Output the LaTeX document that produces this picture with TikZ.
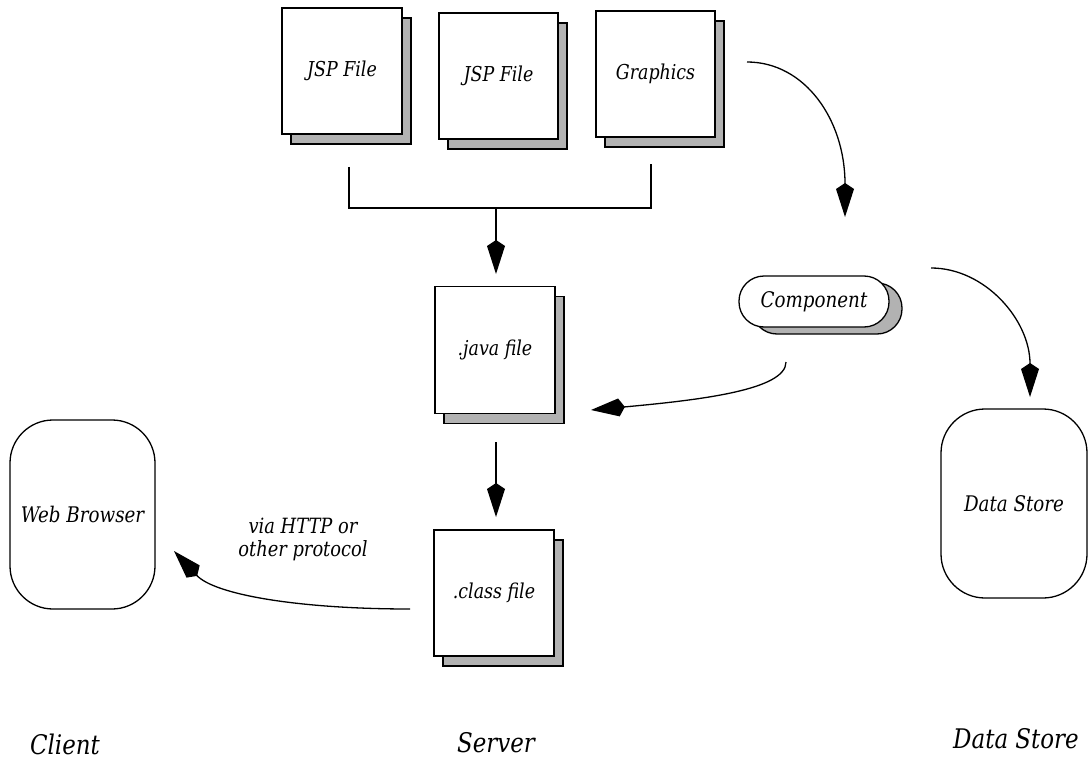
\documentclass[tikz,border=0pt]{standalone}
\usepackage{fontspec}
\setmainfont{DejaVu Serif}[FakeStretch=0.85]
\usetikzlibrary{arrows.meta,shadows,shapes.misc}
\definecolor{shadowgray}{gray}{0.70}
\tikzset{
  lw/.style={line width=1.3pt},
  doc/.style={lw, draw=black, fill=white, rectangle, minimum width=120pt, minimum height=126pt,
    inner sep=0pt, font=\fontsize{20.5}{24}\selectfont\itshape,
    general shadow={shadow xshift=9pt, shadow yshift=-10pt, fill=shadowgray, draw=black, lw}},
  pill/.style={lw, draw=black, fill=white, rectangle, rounded corners=25pt, minimum width=150pt,
    minimum height=51pt, inner sep=0pt, font=\fontsize{21.5}{25}\selectfont\itshape,
    general shadow={shadow xshift=13pt, shadow yshift=-7pt, fill=shadowgray, draw=black, lw}},
  store/.style={lw, draw=black, fill=white, rectangle, rounded corners=44pt, minimum width=146pt,
    minimum height=189pt, inner sep=0pt, font=\fontsize{21.5}{25}\selectfont\itshape},
  lbl/.style={inner sep=0pt, font=\fontsize{21}{23}\selectfont\itshape, align=center},
  biglbl/.style={inner sep=0pt, anchor=base, font=\fontsize{27}{30}\selectfont\itshape},
  conn/.style={lw, -{Kite[length=34pt,width=18pt,inset=6pt]}},
  plain/.style={lw}
}
\begin{document}
\begin{tikzpicture}[x=1pt,y=-1pt]
\useasboundingbox (0,0) rectangle (1091,762);
% document nodes
\node[doc] (jsp1) at (342,71) {JSP File};
\node[doc, minimum width=119pt] (jsp2) at (498.5,76) {JSP File};
\node[doc, minimum width=119pt] (gra) at (655.5,74) {Graphics};
\node[doc, minimum height=127pt] (java) at (495,350) {.java file};
\node[doc] (class) at (494,593) {.class file};
% component
\node[pill] (comp) at (814,301.5) {Component};
% browser and data store
\node[store, minimum width=145pt, rounded corners=43pt] (web) at (82.5,514.5) {Web Browser};
\node[store] (ds) at (1014,503.5) {Data Store};
% labels
\node[lbl] (via) at (303,539) {via HTTP or\\other protocol};
\node[biglbl] (client) at (65,754) {Client};
\node[biglbl] (server) at (496,752) {Server};
\node[biglbl] (dslbl) at (1016,748) {Data Store};
% connector coordinates
\coordinate (b1) at (349,167);
\coordinate (b2) at (651,164);
\coordinate (bm) at (496,208);
\coordinate (jin) at (496,274);
\coordinate (gout) at (747,62);
\coordinate (cin) at (845,217);
\coordinate (cout) at (931,268);
\coordinate (dsin) at (1030,397);
\coordinate (cdown) at (786,362);
\coordinate (javain) at (591,410);
\coordinate (javaout) at (496,442);
\coordinate (classin) at (496,517);
\coordinate (classout) at (410,609);
\coordinate (webin) at (174,551);
% connectors
\draw[plain] (b1) |- (bm) -| (b2);
\draw[conn] (bm) -- (jin);
\draw[conn] (gout) .. controls (805,62) and (845,120) .. (cin);
\draw[conn] (cout) .. controls (985,268) and (1030,320) .. (dsin);
\draw[conn] (cdown) .. controls (786,390) and (700,400) .. (javain);
\draw[conn] (javaout) -- (classin);
\draw[conn] (classout) .. controls (300,609) and (215,595) .. (webin);
\end{tikzpicture}
\end{document}
